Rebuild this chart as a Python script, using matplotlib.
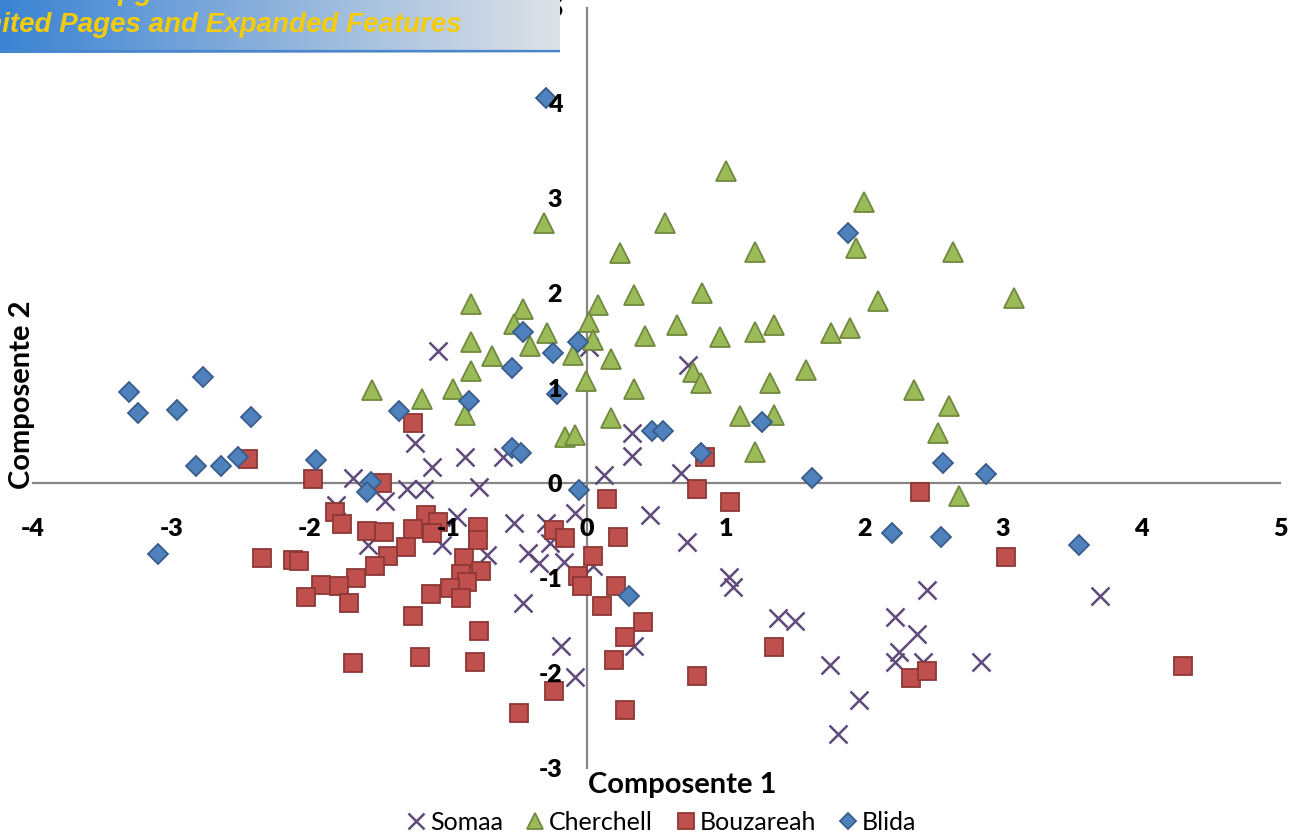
import matplotlib.pyplot as plt
import numpy as np
from matplotlib.colors import LinearSegmentedColormap

plt.rcParams['font.family'] = ['Lato', 'DejaVu Sans']
plt.rcParams['axes.unicode_minus'] = False

# valeurs (Composante 1, Composante 2)
somaa_x = [-1.08, 0.73, -1.24, -1.12, -0.88, -0.61, -1.69, -1.30, -1.18, -1.46,
           -0.78, -1.81, -0.94, -1.05, -1.58, -0.72, -0.53, -0.30, -0.09, 0.12,
           -0.43, -0.35, -0.17, -0.27, -0.46, -0.19, -0.09, 0.04, 0.32, 0.32,
           0.68, 0.45, 0.72, 1.02, 1.05, 1.38, 1.50, 0.34, 1.75, 1.96,
           1.81, 2.22, 2.45, 2.38, 2.25, 2.22, 2.42, 2.84, 3.70, 0.01]
somaa_y = [1.39, 1.24, 0.42, 0.17, 0.27, 0.27, 0.05, -0.06, -0.06, -0.19,
           -0.04, -0.23, -0.36, -0.65, -0.65, -0.76, -0.42, -0.42, -0.32, 0.08,
           -0.74, -0.84, -0.83, -0.63, -1.26, -1.72, -2.04, -0.87, 0.53, 0.28,
           0.11, -0.34, -0.62, -0.99, -1.09, -1.42, -1.45, -1.72, -1.92, -2.28,
           -2.64, -1.41, -1.13, -1.59, -1.78, -1.88, -1.88, -1.88, -1.19, 1.43]

cherchell_x = [1.00, 2.00, -0.31, 0.56, 0.24, 1.21, 1.94, 2.64, 0.34, 0.83,
               2.10, 3.08, -0.84, -0.46, 0.08, -0.53, 0.01, -0.29, -0.41, -0.84,
               -0.69, -0.10, 0.04, 0.65, 0.42, 0.96, 1.21, 1.35, 1.76, 1.90,
               0.17, -0.84, -0.97, -0.01, 0.34, 0.76, 0.82, 1.58, 1.32, 2.36,
               2.61, -1.55, -1.19, -0.88, 0.17, 1.10, 1.35, 2.53, 1.21, -0.16,
               -0.09, 2.68]
cherchell_y = [3.28, 2.96, 2.74, 2.74, 2.42, 2.43, 2.47, 2.43, 1.98, 2.00,
               1.92, 1.95, 1.88, 1.83, 1.87, 1.67, 1.69, 1.58, 1.44, 1.48,
               1.34, 1.35, 1.51, 1.66, 1.55, 1.54, 1.59, 1.66, 1.58, 1.63,
               1.31, 1.18, 0.99, 1.07, 0.99, 1.17, 1.05, 1.19, 1.05, 0.98,
               0.81, 0.98, 0.88, 0.72, 0.68, 0.71, 0.72, 0.53, 0.33, 0.48,
               0.51, -0.14]

bouzareah_x = [-1.26, -2.45, -1.98, -1.48, -1.82, -1.77, -1.59, -1.47, -1.16, -1.08,
               -1.26, -1.12, -0.79, -0.79, -1.31, -1.44, -1.53, -1.67, -1.92, -1.79,
               -2.03, -1.72, -2.35, -2.12, -2.08, -0.89, -0.77, -0.91, -0.87, -0.99,
               -1.13, -0.91, -1.26, -0.78, -1.69, -1.21, -0.81, -0.24, -0.49, -0.24,
               -0.16, 0.04, -0.07, -0.04, 0.11, 0.14, 0.22, 0.21, 0.40, 0.27,
               0.19, 0.79, 0.27, 0.85, 0.79, 1.03, 1.35, 2.40, 2.34, 2.45,
               3.02, 4.30]
bouzareah_y = [0.63, 0.25, 0.04, 0.00, -0.31, -0.43, -0.51, -0.52, -0.34, -0.41,
               -0.48, -0.53, -0.46, -0.60, -0.67, -0.77, -0.87, -1.00, -1.07, -1.08,
               -1.20, -1.26, -0.79, -0.81, -0.82, -0.79, -0.93, -0.96, -1.04, -1.11,
               -1.17, -1.21, -1.40, -1.56, -1.89, -1.83, -1.88, -2.19, -2.42, -0.49,
               -0.58, -0.77, -0.98, -1.08, -1.29, -0.17, -0.57, -1.08, -1.46, -1.62,
               -1.86, -2.03, -2.39, 0.27, -0.06, -0.20, -1.73, -0.09, -2.05, -1.98,
               -0.78, -1.93]

blida_x = [-0.30, -3.31, -3.24, -2.77, -2.96, -2.43, -2.82, -2.64, -2.52, -1.96,
           -3.10, -1.36, -1.56, -1.59, -0.85, -0.54, -0.46, -0.25, -0.07, -0.22,
           -0.54, -0.48, -0.06, 0.47, 0.55, 0.82, 1.26, 1.88, 1.62, 2.20,
           2.57, 2.55, 2.88, 3.55, 0.30]
blida_y = [4.05, 0.96, 0.74, 1.12, 0.77, 0.69, 0.18, 0.18, 0.27, 0.24,
           -0.75, 0.76, 0.01, -0.09, 0.86, 1.21, 1.59, 1.37, 1.48, 0.94,
           0.37, 0.32, -0.07, 0.55, 0.55, 0.32, 0.64, 2.63, 0.05, -0.53,
           0.21, -0.57, 0.09, -0.65, -1.19]

x_ticks = list(range(-4, 6))
y_ticks = list(range(-3, 6))

fig = plt.figure(figsize=(12.95, 8.39), dpi=100)
ax = fig.add_axes([33 / 1295, 71 / 839, 1247 / 1295, 760 / 839])

ax.plot(somaa_x, somaa_y, ls='none', marker='x', ms=13, mew=1.8,
        color='#604a7b', label='Somaa', zorder=3)
ax.plot(cherchell_x, cherchell_y, ls='none', marker='^', ms=14,
        mfc='#9bbb59', mec='#71893f', mew=1.3, label='Cherchell', zorder=3)
ax.plot(bouzareah_x, bouzareah_y, ls='none', marker='s', ms=13.5,
        mfc='#c0504d', mec='#8c3836', mew=1.3, label='Bouzareah', zorder=3)
ax.plot(blida_x, blida_y, ls='none', marker='D', ms=9.8,
        mfc='#4f81bd', mec='#385d8a', mew=1.3, label='Blida', zorder=3)

ax.set_xlim(-4, 5)
ax.set_ylim(-3, 5)
ax.spines['left'].set_position(('data', 0))
ax.spines['bottom'].set_position(('data', 0))
ax.spines['top'].set_visible(False)
ax.spines['right'].set_visible(False)
for s in ['left', 'bottom']:
    ax.spines[s].set_color('#868686')
    ax.spines[s].set_linewidth(1.6)
ax.set_xticks(x_ticks)
ax.set_xticklabels([str(t) for t in x_ticks], fontsize=18, fontweight='heavy')
ax.set_yticks(y_ticks)
ax.set_yticklabels([str(t) for t in y_ticks], fontsize=18, fontweight='heavy')
ax.tick_params(axis='both', length=0)
ax.tick_params(axis='x', pad=25)
ax.tick_params(axis='y', pad=18)
ax.xaxis.set_zorder(5)
ax.yaxis.set_zorder(5)

fig.text(682 / 1295, 1 - 785 / 839, 'Composente 1', ha='center', va='center',
         fontsize=21, fontweight='bold')
fig.text(22 / 1295, 1 - 395 / 839, 'Composente 2', ha='center', va='center',
         fontsize=21, fontweight='bold', rotation=90)

fig.legend(loc='center', bbox_to_anchor=(660 / 1295, 1 - 822 / 839), ncol=4,
           frameon=False, fontsize=18, handletextpad=0.05, columnspacing=0.8,
           markerscale=0.85, handlelength=1.0)

# bandeau en haut a gauche
bax = fig.add_axes([0, 1 - 53 / 839, 560 / 1295, 53 / 839], zorder=10)
grad = np.linspace(0, 1, 256).reshape(1, -1)
cmap = LinearSegmentedColormap.from_list('bandeau', ['#3a83d3', '#8fb3dc', '#dde2e7'])
bax.imshow(grad, aspect='auto', cmap=cmap, extent=[0, 1, 0, 1])
bax.set_xlim(0, 1)
bax.set_ylim(0, 1)
bax.axis('off')
bax.axhline(0.03, color='#4a86cc', lw=1.6)
bax.text(462 / 560, 1 - 32 / 53, 'Unlimited Pages and Expanded Features',
         ha='right', va='baseline', fontsize=20, fontweight='bold', style='italic',
         color='#f5cc0a', family='Liberation Sans', clip_on=True)
bax.text(-76 / 560, 1.0, 'Click Here to upgrade to', ha='left', va='baseline',
         fontsize=20, fontweight='bold', style='italic', color='#f5cc0a',
         family='Liberation Sans', clip_on=True)

plt.savefig('out.png', dpi=100)
plt.close()
